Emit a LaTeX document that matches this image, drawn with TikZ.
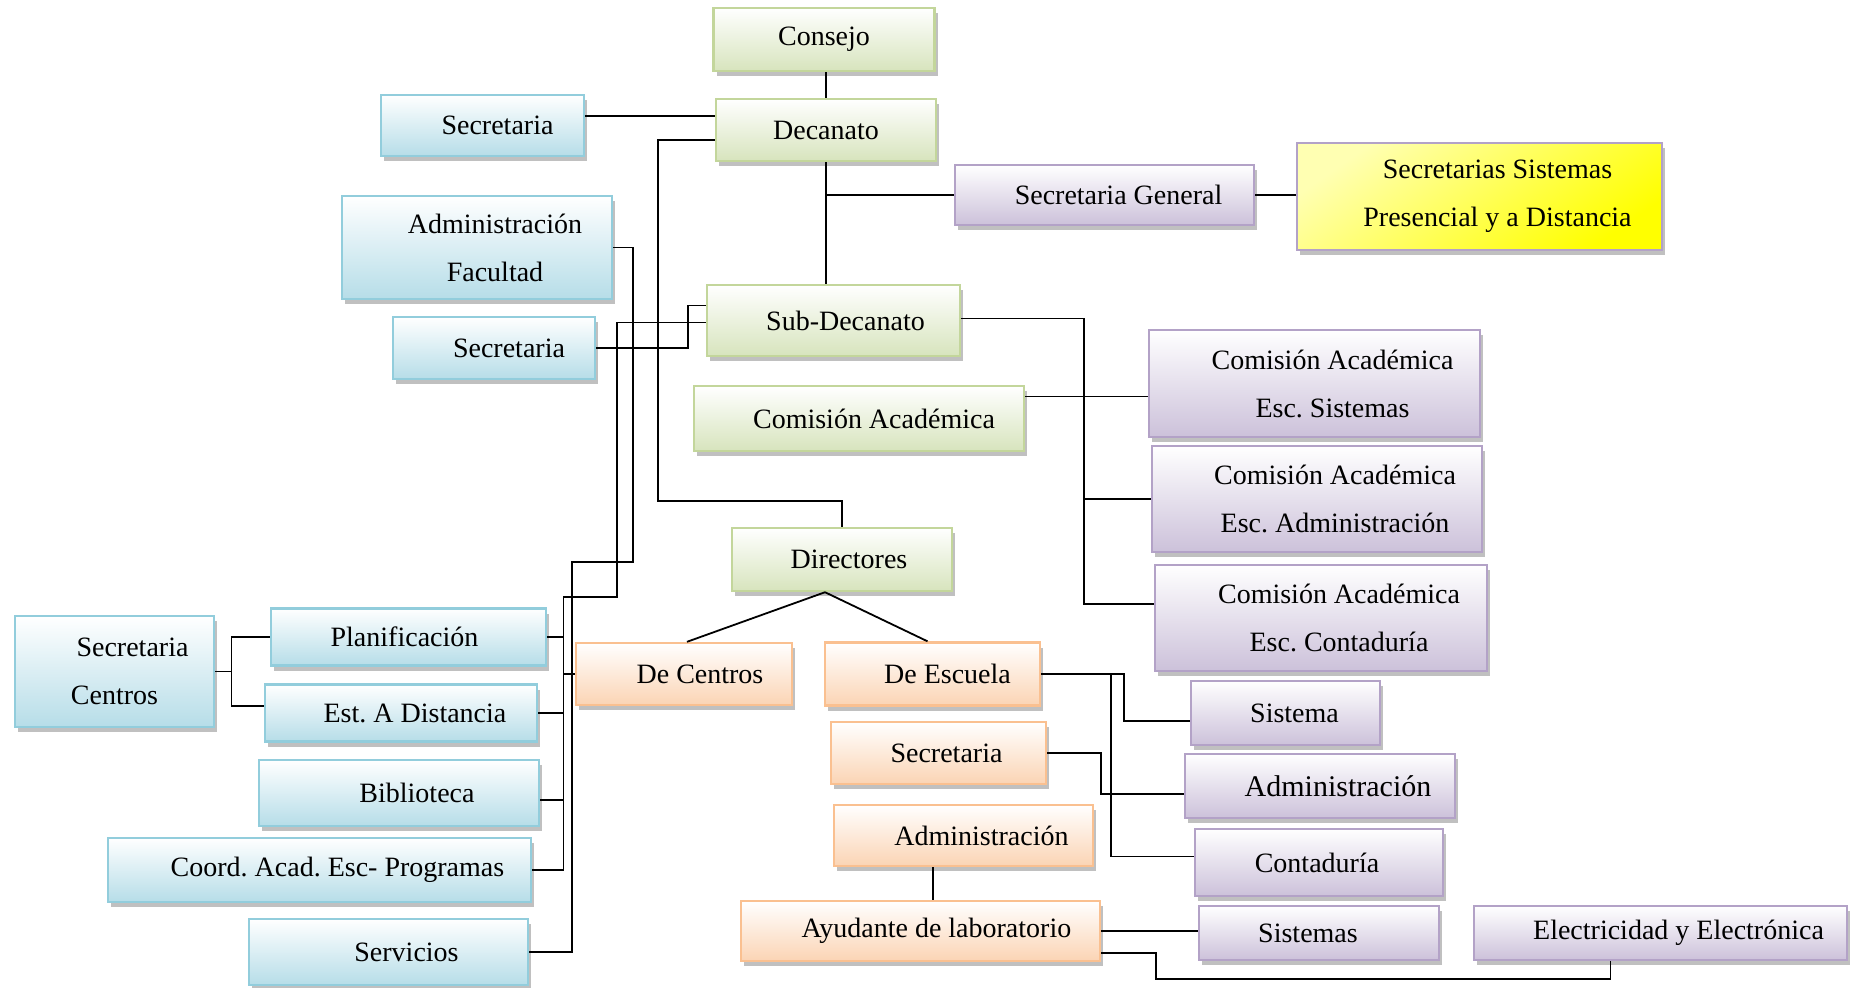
\documentclass[tikz,border=0pt]{standalone}
\usepackage{fontspec}
\setmainfont{Liberation Serif}
\usetikzlibrary{shadows}
\frenchspacing

\definecolor{lineblue}{HTML}{92CDDC}
\definecolor{fillblue}{HTML}{B6DDE8}
\definecolor{linegreen}{HTML}{C3D69B}
\definecolor{fillgreen}{HTML}{D7E4BD}
\definecolor{linepurple}{HTML}{B3A2C7}
\definecolor{fillpurple}{HTML}{CCC1DA}
\definecolor{lineorange}{HTML}{FAC090}
\definecolor{fillorange}{HTML}{FBD4B4}

% sangria del texto dentro de las cajas
\newcommand{\ind}{\hspace*{18pt}}

\begin{document}
\begin{tikzpicture}[
      x=0.5pt, y=-0.5pt,
      box/.style={rectangle, line width=1.2pt, inner sep=0pt, align=center,
        drop shadow={shadow xshift=1.5pt, shadow yshift=-2.5pt, opacity=0.45, fill=black!55}},
      bluebox/.style={box, draw=lineblue, top color=white, bottom color=fillblue},
      greenbox/.style={box, draw=linegreen, top color=white, bottom color=fillgreen},
      purplebox/.style={box, draw=linepurple, top color=white, bottom color=fillpurple},
      orangebox/.style={box, draw=lineorange, top color=white, bottom color=fillorange},
      yellowbox/.style={box, draw=linepurple, top color=yellow!30, bottom color=yellow, shading angle=35},
      link/.style={line width=0.9pt},
      every node/.style={font=\fontsize{14pt}{24pt}\selectfont}]

      \useasboundingbox (0,0) rectangle (1856,987);

      % direccion
      \node[greenbox, minimum width=110.5pt, minimum height=31.5pt] (cons) at (824,39.5) {Consejo};
      \node[greenbox, minimum width=110pt, minimum height=31pt] (dec) at (826,130) {Decanato};
      \node[bluebox, minimum width=101.5pt, minimum height=30.5pt] (secA) at (482.5,125.5) {\hspace*{15pt}Secretaria};
      \node[purplebox, minimum width=149.5pt, minimum height=30pt] (secgen) at (1104.5,195) {\hspace*{14pt}Secretaria General};
      \node[yellowbox, minimum width=182.5pt, minimum height=53.5pt] (secsis) at (1479.5,196.5)
        {\ind Secretarias Sistemas\\\ind Presencial y a Distancia};
      \node[bluebox, minimum width=135pt, minimum height=51.5pt] (admfac) at (477,247.5)
        {\ind Administración\\\ind Facultad};
      \node[greenbox, minimum width=126.5pt, minimum height=35.5pt] (subdec) at (833.5,320.5) {\hspace*{12pt}Sub-Decanato};
      \node[bluebox, minimum width=101pt, minimum height=31pt] (secB) at (494,348) {\hspace*{15pt}Secretaria};
      \node[greenbox, minimum width=165pt, minimum height=32.5pt] (comac) at (859,418.5) {\hspace*{15pt}Comisión Académica};
      \node[purplebox, minimum width=165.5pt, minimum height=53.5pt] (casis) at (1314.5,383.5)
        {\ind Comisión Académica\\\ind Esc. Sistemas};
      \node[purplebox, minimum width=165pt, minimum height=53pt] (caadm) at (1317,499)
        {\ind Comisión Académica\\\ind Esc. Administración};
      \node[purplebox, minimum width=166pt, minimum height=53pt] (cacon) at (1321,618)
        {\ind Comisión Académica\\\ind Esc. Contaduría};
      \node[greenbox, minimum width=110pt, minimum height=31.5pt] (dir) at (842,559.5) {\hspace*{7pt}Directores};

      % izquierda
      \node[bluebox, minimum width=99.5pt, minimum height=55.5pt] (seccen) at (114.5,671.5) {\ind Secretaria\\Centros};
      \node[bluebox, minimum width=137.5pt, minimum height=28.5pt] (plan) at (408.5,637) {\hspace*{-4pt}Planificación};
      \node[bluebox, minimum width=136pt, minimum height=28.5pt] (estd) at (401,713) {\hspace*{14pt}Est. A Distancia};
      \node[bluebox, minimum width=140pt, minimum height=33pt] (bib) at (399,793) {\ind Biblioteca};
      \node[bluebox, minimum width=211.5pt, minimum height=32pt] (coord) at (319.5,870) {\ind Coord. Acad. Esc- Programas};
      \node[bluebox, minimum width=139.5pt, minimum height=33pt] (serv) at (388.5,952) {\ind Servicios};

      % escuelas
      \node[orangebox, minimum width=108pt, minimum height=31pt] (decen) at (684,674) {\hspace*{16pt}De Centros};
      \node[orangebox, minimum width=107.5pt, minimum height=31.5pt] (desc) at (932.5,674) {\hspace*{15pt}De Escuela};
      \node[orangebox, minimum width=107.5pt, minimum height=31pt] (seco) at (938.5,753) {\hspace*{8pt}Secretaria};
      \node[orangebox, minimum width=129.5pt, minimum height=30.5pt] (admo) at (963.5,835.5) {\ind Administración};
      \node[orangebox, minimum width=179.5pt, minimum height=30pt] (ayu) at (920.5,931) {\hspace*{16pt}Ayudante de laboratorio};
      \node[purplebox, minimum width=94.5pt, minimum height=32pt] (sist) at (1285.5,713) {\hspace*{9pt}Sistema};
      \node[purplebox, minimum width=135pt, minimum height=32pt, font=\fontsize{15pt}{24pt}\selectfont] (admp) at (1320,786) {\ind Administración};
      \node[purplebox, minimum width=124pt, minimum height=33.5pt] (cont) at (1319,862.5) {\hspace*{-2pt}Contaduría};
      \node[purplebox, minimum width=120pt, minimum height=27pt] (sists) at (1319,933) {\hspace*{-11pt}Sistemas};
      \node[purplebox, minimum width=186.5pt, minimum height=27pt] (elec) at (1660.5,933) {\ind Electricidad y Electrónica};

      % puntos de giro
      \coordinate (dcorner) at (658,500.7);
      \coordinate (acorner) at (633.3,562.3);
      \coordinate (busB) at (571.7,562.3);
      \coordinate (sbturn) at (687.7,348);
      \coordinate (scorner) at (616.7,596.6);
      \coordinate (busA) at (563.5,596.6);
      \coordinate (scbus) at (231.5,672);
      \coordinate (rbus) at (1084,450);
      \coordinate (eb1) at (1123.8,700);
      \coordinate (eb2) at (1111,700);
      \coordinate (eb3) at (1101,770);
      \coordinate (lab) at (932.6,880);
      \coordinate (eb4) at (1156,979.3);

      % lineas
      \draw[link] (dec.north) -- (dec.north |- cons.south);
      \draw[link] ([yshift=7pt]dec.west) -- ([yshift=7pt]dec.west -| secA.east);
      \draw[link] ([yshift=-5pt]dec.west) -| (dcorner) -| (dir.north);
      \draw[link] (dec.south) -- (dec.south |- subdec.north);
      \draw[link] (dec.south |- secgen.west) -- (secgen.west);
      \draw[link] (secgen.east) -- (secgen.east -| secsis.west);
      \draw[link] (admfac.east) -| (acorner) -- (busB) |- (serv.east);
      \draw[link] ([yshift=7.5pt]subdec.west) -| (sbturn) -- (secB.east);
      \draw[link] ([yshift=-1pt]subdec.west) -| (scorner) -- (busA) |- (coord.east);
      \foreach \n in {plan, estd}{ \draw[link] (\n.east) -- (\n.east -| busA);}
      \draw[link] ([yshift=-3.5pt]bib.east) -- ([yshift=-3.5pt]bib.east -| busA);
      \draw[link] (decen.west) -- (decen.west -| busA);
      \draw[link] ([xshift=-8.5pt]dir.south) -- ([xshift=1.5pt]decen.north);
      \draw[link] ([xshift=-8.5pt]dir.south) -- ([xshift=-2.5pt]desc.north);
      \draw[link] (seccen.east) -- (seccen.east -| scbus);
      \draw[link] (plan.west) -| (scbus) |- ([yshift=3.5pt]estd.west);
      \draw[link] ([yshift=1pt]subdec.east) -| (rbus) |- ([yshift=7pt]cacon.west);
      \draw[link] (caadm.west) -- (caadm.west -| rbus);
      \draw[link] ([yshift=11pt]comac.east) -- ([yshift=11pt]comac.east -| casis.west);
      \draw[link] (desc.east) -| (eb1) |- ([yshift=-4pt]sist.west);
      \draw[link] (desc.east -| eb2) |- ([yshift=3pt]cont.west);
      \draw[link] (seco.east) -| (eb3) |- ([yshift=-4pt]admp.west);
      \draw[link] (admo.south -| lab) -- (ayu.north -| lab);
      \draw[link] (ayu.east) -- (ayu.east -| sists.west);
      \draw[link] ([yshift=-11pt]ayu.east) -| (eb4) -| ([xshift=-25pt]elec.south);
    \end{tikzpicture}
\end{document}
